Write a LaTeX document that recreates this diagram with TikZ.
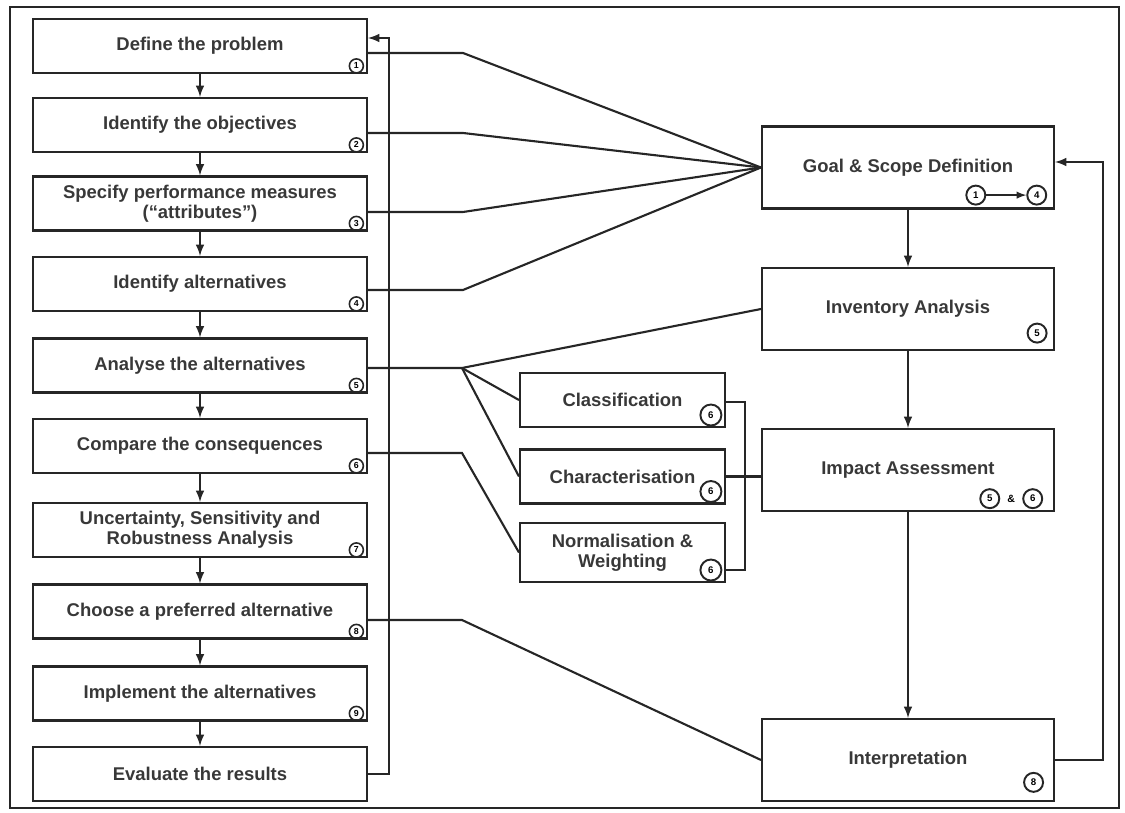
\documentclass[tikz,border=0pt]{standalone}
\usepackage{fontspec}
\setmainfont{Liberation Sans}
\usetikzlibrary{positioning,calc}
\begin{document}
\begin{tikzpicture}[x=0.02cm,y=-0.02cm,line width=1.2pt,draw=black!85,
  stepbox/.style={rectangle,draw,minimum width=6.68cm,minimum height=1.08cm,align=center,
    font=\fontsize{10.5}{11.5}\selectfont\bfseries,text=black!78},
  lcabox/.style={rectangle,draw,minimum width=5.84cm,minimum height=1.64cm,align=center,
    font=\fontsize{10.5}{11.5}\selectfont\bfseries,text=black!78},
  subbox/.style={rectangle,draw,minimum width=4.1cm,minimum height=1.08cm,align=center,
    font=\fontsize{10.5}{11.5}\selectfont\bfseries,text=black!78},
  num/.style={circle,draw,line width=0.9pt,inner sep=0pt,minimum size=0.28cm,
    font=\fontsize{5}{6}\selectfont\bfseries},
  bignum/.style={circle,draw,line width=1.1pt,inner sep=0pt,minimum size=0.38cm,
    font=\fontsize{5.5}{6}\selectfont\bfseries}]
  \useasboundingbox (0,0) rectangle (1125,813);
  \draw[line width=0.8pt] (10,7) rectangle (1119,808);

  % decision steps
  \node[stepbox] (d1) at (200,46) {Define the problem};
  \node[stepbox] (d2) at (200,125) {Identify the objectives};
  \node[stepbox] (d3) at (200,203.5) {Specify performance measures\\(``attributes'')};
  \node[stepbox] (d4) at (200,284) {Identify alternatives};
  \node[stepbox] (d5) at (200,365.5) {Analyse the alternatives};
  \node[stepbox] (d6) at (200,446) {Compare the consequences};
  \node[stepbox] (d7) at (200,530) {Uncertainty, Sensitivity and\\Robustness Analysis};
  \node[stepbox] (d8) at (200,611.5) {Choose a preferred alternative};
  \node[stepbox] (d9) at (200,693.5) {Implement the alternatives};
  \node[stepbox] (d10) at (200,774) {Evaluate the results};
  \foreach \i in {1,...,9}
    \node[num,above left=1.5pt and 3.5pt] (c\i) at (d\i.south east) {\i};
  \foreach \i/\j in {1/2,2/3,3/4,4/5,5/6,6/7,7/8,8/9,9/10}
    \draw[-latex] (d\i) -- (d\j);

  % LCA phases
  \node[lcabox] (goal) at (908,167.5) {Goal \& Scope Definition};
  \node[lcabox] (inv) at (908,309) {Inventory Analysis};
  \node[lcabox] (imp) at (908,470) {Impact Assessment};
  \node[lcabox] (int) at (908,760) {Interpretation};
  \draw[-latex] (goal) -- (inv);
  \draw[-latex] (inv) -- (imp);
  \draw[-latex] (imp) -- (int);

  \node[bignum,above left=4pt and 6.2pt] (g4) at (goal.south east) {4};
  \node[bignum,left=0.8cm of g4] (g1) {1};
  \draw[-latex,line width=0.9pt] (g1) -- (g4);
  \node[bignum,above left=6pt and 6pt] (i5) at (inv.south east) {5};
  \node[bignum,above left=3.4pt and 8.5pt] (m6) at (imp.south east) {6};
  \node[bignum,left=0.44cm of m6] (m5) {5};
  \node[font=\fontsize{6}{6}\selectfont\bfseries,inner sep=0pt] (amp) at ($(m5)!0.5!(m6)$) {\&};
  \node[bignum,above left=7pt and 8pt] (t8) at (int.south east) {8};

  % impact assessment elements
  \node[subbox] (cls) at (622.5,400) {Classification};
  \node[subbox] (chr) at (622.5,476.5) {Characterisation};
  \node[subbox,minimum height=1.18cm] (nrm) at (622.5,552.5) {Normalisation \&\\Weighting};
  \foreach \s in {cls,chr,nrm}
    \node[bignum,minimum size=0.42cm,above left=2.8pt and 4pt] (n\s) at (\s.south east) {6};

  % links between the two procedures
  \coordinate (k1) at (463,53);
  \coordinate (k2) at (463,133);
  \coordinate (k3) at (463,212);
  \coordinate (k4) at (463,290);
  \coordinate (k5) at (462,368);
  \coordinate (k6) at (462,453);
  \coordinate (k8) at (462,620);
  \foreach \i in {1,...,4}
    \draw (d\i.east |- k\i) -- (k\i) -- (goal.west);
  \draw (d5.east |- k5) -- (k5) -- (inv.west);
  \draw (k5) -- (cls.west);
  \draw (k5) -- (chr.west);
  \draw (d6.east |- k6) -- (k6) -- (nrm.west);
  \draw (d8.east |- k8) -- (k8) -- (int.west);

  \coordinate (brk) at (745,402);
  \draw (cls.east |- brk) -- (brk) -- (brk |- 0,570) -- (nrm.east |- 0,570);
  \draw (chr.east) -- (imp.west |- chr.east);

  % feedback loops
  \coordinate (fb) at (389,38);
  \draw[-latex] (d10.east) -| (fb) -- (d1.east |- fb);
  \coordinate (fr) at (1103,162);
  \draw[-latex] (int.east) -| (fr) -- (goal.east |- fr);
\end{tikzpicture}
\end{document}
